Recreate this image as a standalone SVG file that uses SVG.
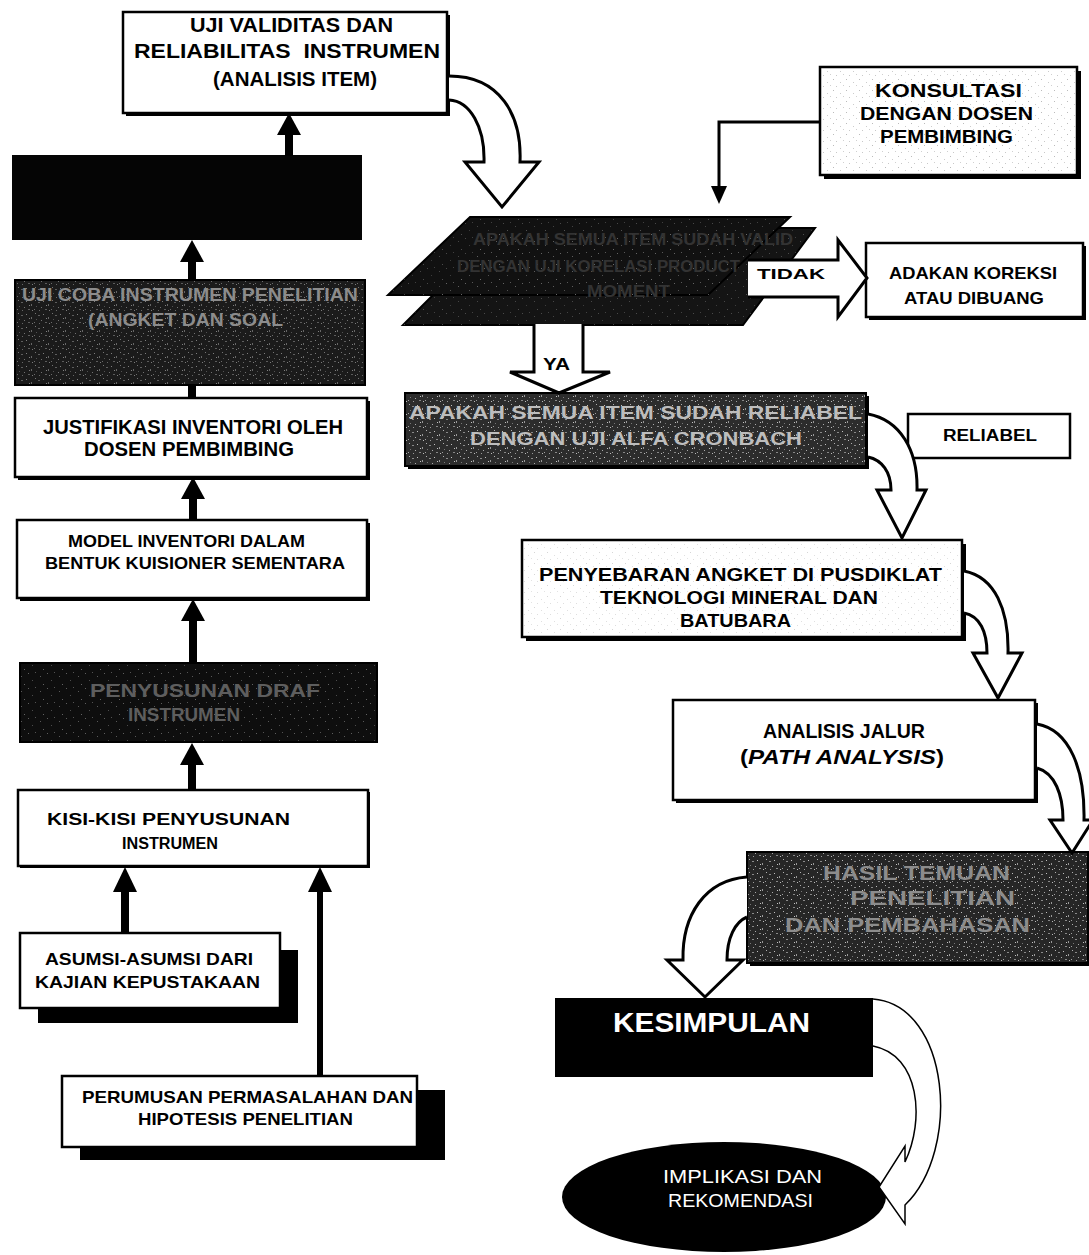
<svg xmlns="http://www.w3.org/2000/svg" width="1089" height="1255" viewBox="0 0 1089 1255">
<defs>
<pattern id="specks" width="17" height="13" patternUnits="userSpaceOnUse">
<rect x="1" y="1" width="1" height="1" fill="#b0b0b0"/>
<rect x="4" y="3" width="2" height="1" fill="#8a8a8a"/>
<rect x="9" y="2" width="1" height="1" fill="#c0c0c0"/>
<rect x="14" y="5" width="1" height="2" fill="#999"/>
<rect x="2" y="7" width="1" height="1" fill="#777"/>
<rect x="7" y="8" width="1" height="1" fill="#aaa"/>
<rect x="11" y="10" width="2" height="1" fill="#888"/>
<rect x="15" y="11" width="1" height="1" fill="#bbb"/>
<rect x="5" y="11" width="1" height="1" fill="#9a9a9a"/>
<rect x="12" y="6" width="1" height="1" fill="#c4c4c4"/>
<rect x="0" y="10" width="1" height="1" fill="#a0a0a0"/>
</pattern>
<pattern id="sparse" width="19" height="15" patternUnits="userSpaceOnUse">
<rect x="2" y="1" width="1" height="1" fill="#777"/>
<rect x="13" y="5" width="1" height="1" fill="#666"/>
<rect x="5" y="9" width="1" height="1" fill="#888"/>
<rect x="16" y="12" width="1" height="1" fill="#707070"/>
<rect x="9" y="13" width="1" height="1" fill="#808080"/>
</pattern>
<pattern id="light" width="13" height="11" patternUnits="userSpaceOnUse">
<rect x="1" y="2" width="1" height="1" fill="#bbb"/>
<rect x="8" y="5" width="1" height="1" fill="#ccc"/>
<rect x="4" y="9" width="1" height="1" fill="#c8c8c8"/>
<rect x="11" y="8" width="1" height="1" fill="#d0d0d0"/>
</pattern>
</defs>
<style>
text{font-family:"Liberation Sans",Arial,sans-serif;font-weight:bold;fill:#000}
.box{fill:#fff;stroke:#000;stroke-width:2.5}
.sh{fill:#000}
.dk{stroke:#000;stroke-width:2}
.dt{fill:#8c8c8c}
.lt{fill:#bdbdbd}
.hollow{fill:#fff;stroke:#000;stroke-width:3;stroke-linejoin:miter}
.thin{fill:#fff;stroke:#000;stroke-width:1.5}
.solid{fill:#000}
</style>
<rect width="1089" height="1255" fill="#fff"/>

<g id="n-uji-validitas">
<rect class="sh" x="126" y="15" width="324" height="101"/>
<rect class="box" x="123" y="12" width="324" height="101"/>
<text x="190" y="32" font-size="20" textLength="203" lengthAdjust="spacingAndGlyphs">UJI VALIDITAS DAN</text>
<text x="134" y="58" font-size="20" textLength="306" lengthAdjust="spacingAndGlyphs" style="white-space:pre">RELIABILITAS  INSTRUMEN</text>
<text x="213" y="86" font-size="20" textLength="164" lengthAdjust="spacingAndGlyphs">(ANALISIS ITEM)</text>
</g>

<g id="n-black">
<rect x="12" y="155" width="350" height="85" fill="#050505"/>
</g>

<g id="n-uji-coba">
<rect class="dk" x="15" y="280" width="350" height="105" fill="#1b1b1b"/>
<rect x="16" y="281" width="348" height="103" fill="url(#specks)" opacity="0.6"/>
<text class="dt" x="22" y="301" font-size="18" textLength="336" lengthAdjust="spacingAndGlyphs">UJI COBA INSTRUMEN PENELITIAN</text>
<text class="dt" x="88" y="326" font-size="18" textLength="195" lengthAdjust="spacingAndGlyphs">(ANGKET DAN SOAL</text>
</g>

<g id="n-justifikasi">
<rect class="sh" x="18" y="401" width="352" height="79"/>
<rect class="box" x="15" y="398" width="352" height="79"/>
<text x="43" y="434" font-size="20" textLength="300" lengthAdjust="spacingAndGlyphs">JUSTIFIKASI INVENTORI OLEH</text>
<text x="84" y="456" font-size="20" textLength="210" lengthAdjust="spacingAndGlyphs">DOSEN PEMBIMBING</text>
</g>

<g id="n-model">
<rect class="sh" x="20" y="523" width="350" height="78"/>
<rect class="box" x="17" y="520" width="350" height="78"/>
<text x="68" y="547" font-size="16.5" textLength="237" lengthAdjust="spacingAndGlyphs">MODEL INVENTORI DALAM</text>
<text x="45" y="569" font-size="16.5" textLength="300" lengthAdjust="spacingAndGlyphs">BENTUK KUISIONER SEMENTARA</text>
</g>

<g id="n-draf">
<rect class="dk" x="20" y="663" width="357" height="79" fill="#0e0e0e"/>
<rect x="21" y="664" width="355" height="77" fill="url(#sparse)" opacity="0.7"/>
<text x="90" y="697" font-size="19" textLength="230" lengthAdjust="spacingAndGlyphs" style="fill:#5e5e5e">PENYUSUNAN DRAF</text>
<text x="128" y="721" font-size="19" textLength="112" lengthAdjust="spacingAndGlyphs" style="fill:#5e5e5e">INSTRUMEN</text>
</g>

<g id="n-kisi">
<rect class="sh" x="20" y="792" width="350" height="76"/>
<rect class="box" x="18" y="790" width="350" height="76"/>
<text x="47" y="825" font-size="16" textLength="243" lengthAdjust="spacingAndGlyphs">KISI-KISI PENYUSUNAN</text>
<text x="122" y="849" font-size="16" textLength="96" lengthAdjust="spacingAndGlyphs">INSTRUMEN</text>
</g>

<g id="n-asumsi">
<rect class="sh" x="38" y="950" width="260" height="73"/>
<rect class="box" x="20" y="933" width="260" height="75"/>
<text x="45" y="965" font-size="17" textLength="208" lengthAdjust="spacingAndGlyphs">ASUMSI-ASUMSI DARI</text>
<text x="35" y="988" font-size="17" textLength="225" lengthAdjust="spacingAndGlyphs">KAJIAN KEPUSTAKAAN</text>
</g>

<g id="n-perumusan">
<rect class="sh" x="80" y="1090" width="365" height="70"/>
<rect class="box" x="62" y="1076" width="355" height="71"/>
<text x="82" y="1103" font-size="17" textLength="331" lengthAdjust="spacingAndGlyphs">PERUMUSAN PERMASALAHAN DAN</text>
<text x="138" y="1125" font-size="17" textLength="215" lengthAdjust="spacingAndGlyphs">HIPOTESIS PENELITIAN</text>
</g>

<g id="n-konsultasi">
<rect class="sh" x="824" y="71" width="257" height="108"/>
<rect class="box" x="820" y="67" width="257" height="108"/>
<rect x="822" y="69" width="253" height="104" fill="url(#light)"/>
<text x="875" y="97" font-size="19" textLength="147" lengthAdjust="spacingAndGlyphs">KONSULTASI</text>
<text x="860" y="120" font-size="19" textLength="173" lengthAdjust="spacingAndGlyphs">DENGAN DOSEN</text>
<text x="880" y="143" font-size="19" textLength="133" lengthAdjust="spacingAndGlyphs">PEMBIMBING</text>
</g>

<g id="n-valid">
<polygon points="500,228 815,228 743,325 403,325" fill="#141414" stroke="#000" stroke-width="2"/>
<polygon points="470,217 790,217 708,295 388,295" fill="#111" stroke="#000" stroke-width="2"/>
<polygon points="500,228 815,228 743,325 403,325" fill="url(#sparse)" opacity="0.5"/>
<polygon points="470,217 790,217 708,295 388,295" fill="url(#sparse)" opacity="0.5"/>
<text x="473" y="245" font-size="16" textLength="320" lengthAdjust="spacingAndGlyphs" style="fill:#333">APAKAH SEMUA ITEM SUDAH VALID</text>
<text x="457" y="272" font-size="16" textLength="283" lengthAdjust="spacingAndGlyphs" style="fill:#333">DENGAN UJI KORELASI PRODUCT</text>
<text x="587" y="297" font-size="16" textLength="83" lengthAdjust="spacingAndGlyphs" style="fill:#333">MOMENT</text>
</g>

<g id="n-adakan">
<rect class="sh" x="869" y="246" width="217" height="74"/>
<rect class="box" x="866" y="243" width="217" height="74"/>
<text x="889" y="279" font-size="17" textLength="168" lengthAdjust="spacingAndGlyphs">ADAKAN KOREKSI</text>
<text x="904" y="304" font-size="17" textLength="140" lengthAdjust="spacingAndGlyphs">ATAU DIBUANG</text>
</g>

<g id="n-reliabel-q">
<rect class="sh" x="408" y="396" width="461" height="73"/>
<rect class="dk" x="405" y="393" width="461" height="73" fill="#2c2c2c"/>
<rect x="406" y="394" width="459" height="71" fill="url(#specks)"/>
<text class="lt" x="409" y="419" font-size="18" textLength="453" lengthAdjust="spacingAndGlyphs">APAKAH SEMUA ITEM SUDAH RELIABEL</text>
<text class="lt" x="470" y="445" font-size="18" textLength="332" lengthAdjust="spacingAndGlyphs">DENGAN UJI ALFA CRONBACH</text>
</g>

<g id="n-reliabel">
<rect class="box" x="908" y="414" width="162" height="44"/>
<text x="943" y="441" font-size="16" textLength="94" lengthAdjust="spacingAndGlyphs">RELIABEL</text>
</g>

<g id="n-penyebaran">
<rect class="sh" x="526" y="544" width="440" height="97"/>
<rect class="box" x="522" y="540" width="440" height="97"/>
<rect x="524" y="542" width="436" height="93" fill="url(#light)" opacity="0.6"/>
<text x="539" y="581" font-size="19" textLength="403" lengthAdjust="spacingAndGlyphs">PENYEBARAN ANGKET DI PUSDIKLAT</text>
<text x="600" y="604" font-size="19" textLength="278" lengthAdjust="spacingAndGlyphs">TEKNOLOGI MINERAL DAN</text>
<text x="680" y="627" font-size="19" textLength="111" lengthAdjust="spacingAndGlyphs">BATUBARA</text>
</g>

<g id="n-analisis">
<rect class="sh" x="676" y="703" width="362" height="100"/>
<rect class="box" x="673" y="700" width="362" height="100"/>
<text x="763" y="738" font-size="20" textLength="162" lengthAdjust="spacingAndGlyphs">ANALISIS JALUR</text>
<text x="740" y="764" font-size="20" textLength="204" lengthAdjust="spacingAndGlyphs">(<tspan font-style="italic">PATH ANALYSIS</tspan>)</text>
</g>

<g id="n-hasil">
<rect class="sh" x="750" y="855" width="341" height="111"/>
<rect class="dk" x="747" y="852" width="341" height="111" fill="#262626"/>
<rect x="748" y="853" width="339" height="109" fill="url(#specks)"/>
<text class="dt" x="823" y="880" font-size="20" textLength="187" lengthAdjust="spacingAndGlyphs">HASIL TEMUAN</text>
<text class="dt" x="850" y="905" font-size="20" textLength="165" lengthAdjust="spacingAndGlyphs">PENELITIAN</text>
<text class="dt" x="785" y="932" font-size="20" textLength="245" lengthAdjust="spacingAndGlyphs">DAN PEMBAHASAN</text>
</g>

<g id="n-kesimpulan">
<rect x="555" y="998" width="318" height="79" fill="#000"/>
<text x="613" y="1032" font-size="27" textLength="197" lengthAdjust="spacingAndGlyphs" style="fill:#fff">KESIMPULAN</text>
</g>

<g id="n-implikasi">
<ellipse cx="724" cy="1197" rx="162" ry="55" fill="#000"/>
<text x="663" y="1183" font-size="18" textLength="159" lengthAdjust="spacingAndGlyphs" style="fill:#fff;font-weight:normal">IMPLIKASI DAN</text>
<text x="668" y="1207" font-size="18" textLength="145" lengthAdjust="spacingAndGlyphs" style="fill:#fff;font-weight:normal">REKOMENDASI</text>
</g>

<g id="connectors">
<polygon class="solid" points="277,135 289,113 301,135"/><rect class="solid" x="285" y="134" width="8" height="22"/>
<polygon class="solid" points="180,262 192,240 204,262"/><rect class="solid" x="188" y="261" width="8" height="20"/>
<rect class="solid" x="188" y="384" width="8" height="15"/>
<polygon class="solid" points="181,499 193,477 205,499"/><rect class="solid" x="189" y="498" width="8" height="23"/>
<polygon class="solid" points="181,621 193,599 205,621"/><rect class="solid" x="189" y="620" width="8" height="44"/>
<polygon class="solid" points="180,765 192,743 204,765"/><rect class="solid" x="188" y="764" width="8" height="27"/>
<polygon class="solid" points="113,892 125,867 137,892"/><rect class="solid" x="121" y="891" width="8" height="43"/>
<polygon class="solid" points="308,892 320,867 332,892"/><rect class="solid" x="317" y="891" width="6" height="186"/>
<polyline points="820,122 719,122 719,190" fill="none" stroke="#000" stroke-width="3"/>
<polygon class="solid" points="711,186 719,204 727,186"/>
<path class="hollow" d="M449,76 C500,76 522,115 520,162 L539,162 L502,207 L465,162 L484,162 C485,127 470,101 449,100"/>
<path class="hollow" d="M868,414 C900,420 918,450 917,490 L926,490 L902,538 L877,490 L891,490 C891,472 882,460 868,457"/>
<path class="hollow" d="M964,571 C995,577 1009,610 1008,653 L1022,653 L998,698 L973,653 L987,653 C987,632 980,616 964,613"/>
<path class="hollow" d="M1037,724 C1070,730 1085,770 1084,820 L1093,820 L1072,853 L1050,820 L1063,820 C1063,795 1055,773 1037,768"/>
<path class="hollow" d="M747,877 C705,880 682,915 683,960 L667,960 L705,997 L743,960 L727,960 C727,938 735,922 747,917"/>
<path class="thin" d="M873,999 C950,1005 962,1150 905,1205 L905,1224 L879,1187 L905,1146 L905,1162 C925,1120 920,1055 873,1046"/>
<path class="hollow" d="M748,260 L838,260 L838,240 L867,278 L838,317 L838,297 L748,297"/>
<text x="757" y="279" font-size="15" textLength="68" lengthAdjust="spacingAndGlyphs">TIDAK</text>
<path class="hollow" d="M534,324 L534,372 L510,372 L559,393 L610,372 L583,372 L583,324"/>
<text x="543" y="370" font-size="16" textLength="27" lengthAdjust="spacingAndGlyphs">YA</text>
</g>
</svg>
